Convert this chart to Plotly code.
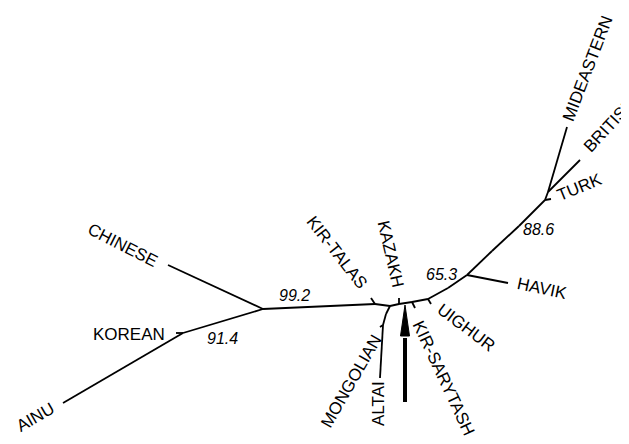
import plotly.graph_objects as go

# ---- tree layout data (node name, x, y in drawing units) ----
node_names = ["AINU", "n_kor", "KOREAN", "n_east", "CHINESE", "n_kt", "KIR-TALAS",
              "n_b", "n_mo1", "n_mo", "MONGOLIAN", "ALTAI", "n_kz", "KAZAKH",
              "n_ks", "KIR-SARYTASH", "n_ug", "UIGHUR", "n_u2", "n_hv", "HAVIK",
              "n_c1", "n_c2", "n_tk", "TURK", "n_mb", "MIDEASTERN", "BRITISH"]
node_x = [63, 183, 176, 263, 168, 375, 371,
          390, 386, 383, 380, 380, 399, 399,
          412, 415, 428, 431, 448, 467, 508,
          492, 519, 545, 551, 548, 567, 580]
node_y = [403, 333, 333, 309, 265, 304, 298,
          306, 314, 325, 327, 378, 304, 298,
          302, 308, 299, 304, 288, 275, 283,
          251, 226, 200, 199, 192, 127, 160]

edges = [("AINU", "n_kor"), ("n_kor", "KOREAN"), ("n_kor", "n_east"),
         ("n_east", "CHINESE"), ("n_east", "n_kt"), ("n_kt", "KIR-TALAS"),
         ("n_kt", "n_b"), ("n_b", "n_mo1"), ("n_mo1", "n_mo"), ("n_mo", "MONGOLIAN"),
         ("n_mo", "ALTAI"), ("n_b", "n_kz"), ("n_kz", "KAZAKH"), ("n_kz", "n_ks"),
         ("n_ks", "KIR-SARYTASH"), ("n_ks", "n_ug"), ("n_ug", "UIGHUR"),
         ("n_ug", "n_u2"), ("n_u2", "n_hv"), ("n_hv", "HAVIK"), ("n_hv", "n_c1"),
         ("n_c1", "n_c2"), ("n_c2", "n_tk"), ("n_tk", "TURK"), ("n_tk", "n_mb"),
         ("n_mb", "MIDEASTERN"), ("n_mb", "BRITISH")]

# ---- taxon labels ----
label_text = ["CHINESE", "KOREAN", "AINU", "KIR-TALAS", "KAZAKH", "MONGOLIAN",
              "ALTAI", "KIR-SARYTASH", "UIGHUR", "HAVIK", "TURK", "BRITISH", "MIDEASTERN"]
label_x = [123, 129, 35, 337, 391, 351, 378, 444, 466, 542, 579, 609, 587]
label_y = [245, 334, 417, 252, 254, 381, 404, 378, 327, 288, 187, 125, 69]
label_angle = [27, 0, -30, 52, 77, -60, -90, 65, 37, 12, -22, -47, -69]

# ---- bootstrap support values ----
support_text = ["99.2", "91.4", "65.3", "88.6"]
support_x = [294, 222, 441, 538]
support_y = [295, 338, 274, 229]

pos = {n: (x, y) for n, x, y in zip(node_names, node_x, node_y)}
ex, ey = [], []
for a, b in edges:
    ex += [pos[a][0], pos[b][0], None]
    ey += [pos[a][1], pos[b][1], None]

fig = go.Figure()
fig.add_trace(go.Scatter(x=ex, y=ey, mode="lines",
                         line=dict(color="black", width=1.8),
                         hoverinfo="skip", showlegend=False))

# arrow marker
arrow_x = 405
arrow_base, arrow_neck, arrow_tip = 402, 336, 305
fig.add_trace(go.Scatter(x=[arrow_x, arrow_x], y=[arrow_base, arrow_neck + 2], mode="lines",
                         line=dict(color="black", width=4), hoverinfo="skip", showlegend=False))
fig.add_trace(go.Scatter(x=[arrow_x - 4.5, arrow_x + 4.5, arrow_x, arrow_x - 4.5],
                         y=[arrow_neck, arrow_neck, arrow_tip, arrow_neck],
                         mode="lines", fill="toself", fillcolor="black",
                         line=dict(color="black", width=1), hoverinfo="skip", showlegend=False))

font = "Liberation Sans, Arial, sans-serif"
for t, x, y, a in zip(label_text, label_x, label_y, label_angle):
    fig.add_annotation(x=x, y=y, text=t, textangle=a, showarrow=False,
                       xanchor="center", yanchor="middle",
                       font=dict(family=font, size=17, color="black"))
for t, x, y in zip(support_text, support_x, support_y):
    fig.add_annotation(x=x, y=y, text="<i>" + t + "</i>", showarrow=False,
                       xanchor="center", yanchor="middle",
                       font=dict(family=font, size=16, color="black"))

# page body has an 8px margin: size the figure so it fills the window exactly
fig.update_layout(width=621, height=436, margin=dict(l=0, r=0, t=0, b=0),
                  paper_bgcolor="white", plot_bgcolor="white",
                  xaxis=dict(range=[8, 629], visible=False, fixedrange=True),
                  yaxis=dict(range=[444, 8], visible=False, fixedrange=True),
                  showlegend=False)
fig.write_html("out.html", config={"displayModeBar": False})
